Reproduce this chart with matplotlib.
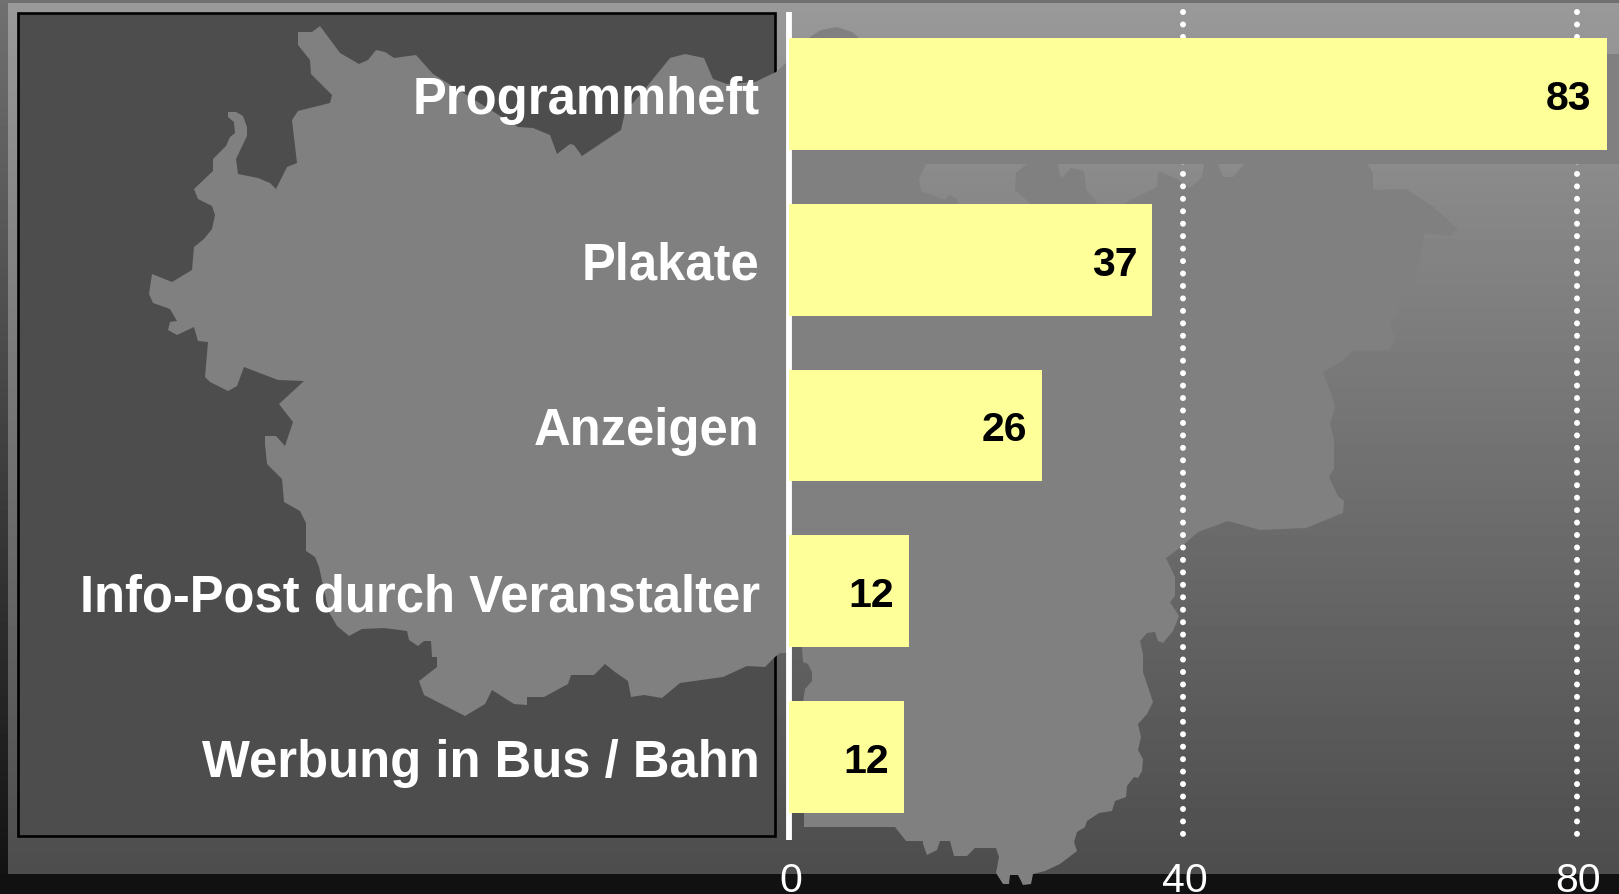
import numpy as np
import matplotlib
matplotlib.use("Agg")
import matplotlib.pyplot as plt
from matplotlib.patches import Polygon, Rectangle
from matplotlib.transforms import ScaledTranslation

plt.rcParams['font.family'] = ['Liberation Sans', 'DejaVu Sans']

# ------------------------------
# Data
# ------------------------------
categories = ["Programmheft", "Plakate", "Anzeigen", "Info-Post durch Veranstalter", "Werbung in Bus / Bahn"]
bar_values = [83, 36.9, 25.7, 12.2, 11.7]
bar_labels = ["83", "37", "26", "12", "12"]
x_ticks = [0, 40, 80]

# outline of the map behind the chart, picture pixels
map_outline = [
    (298, 33), (312, 33), (320, 27), (340, 54), (359, 65), (368, 61), (376, 51), (385, 53), (394, 59), (416, 56),
    (433, 75), (518, 128), (533, 129), (550, 136), (557, 155), (570, 145), (574, 146), (582, 157), (621, 131),
    (625, 113), (645, 90), (670, 59), (685, 55), (704, 59), (713, 80), (727, 85), (755, 83), (776, 73), (790, 60),
    (810, 38), (821, 31), (837, 28), (852, 33), (859, 39), (900, 120), (926, 165), (919, 180), (921, 192),
    (945, 201), (950, 196), (957, 200), (960, 210), (1025, 210), (1030, 204), (1015, 191), (1016, 174), (1027, 165),
    (1040, 150), (1058, 150), (1058, 165), (1059, 174), (1062, 179), (1071, 169), (1084, 172), (1086, 190),
    (1097, 204), (1100, 212), (1120, 212), (1127, 203), (1157, 188), (1158, 174), (1161, 173), (1177, 180),
    (1190, 189), (1202, 178), (1204, 165), (1210, 150), (1218, 150), (1218, 165), (1223, 178), (1233, 178),
    (1244, 165), (1250, 150), (1360, 150), (1367, 165), (1373, 174), (1373, 191), (1406, 190), (1432, 207),
    (1458, 230), (1450, 237), (1424, 234), (1421, 260), (1390, 328), (1395, 339), (1390, 351), (1354, 351),
    (1341, 363), (1323, 373), (1332, 397), (1335, 408), (1330, 425), (1334, 440), (1334, 470), (1329, 478),
    (1338, 497), (1344, 502), (1343, 514), (1306, 529), (1260, 531), (1228, 522), (1198, 533), (1181, 548),
    (1166, 559), (1175, 578), (1175, 597), (1170, 603), (1179, 617), (1173, 632), (1163, 644), (1158, 642),
    (1155, 633), (1147, 634), (1140, 642), (1143, 655), (1143, 673), (1153, 703), (1147, 715), (1138, 725),
    (1141, 738), (1138, 751), (1143, 760), (1142, 772), (1138, 779), (1134, 778), (1127, 787), (1126, 798),
    (1115, 802), (1112, 812), (1099, 814), (1087, 822), (1085, 828), (1077, 833), (1074, 843), (1077, 852),
    (1060, 865), (1045, 872), (1033, 875), (1031, 885), (1023, 886), (1018, 876), (1010, 876), (1009, 885),
    (1003, 885), (996, 874), (999, 858), (996, 849), (975, 849), (967, 857), (954, 857), (950, 842), (940, 842),
    (937, 851), (927, 856), (923, 845), (923, 842), (906, 842), (895, 828), (804, 828), (804, 813), (803, 703),
    (805, 690), (812, 682), (812, 673), (808, 665), (803, 663), (802, 648), (792, 648), (786, 654), (780, 654),
    (775, 658), (765, 668), (747, 667), (723, 678), (680, 684), (662, 699), (644, 696), (631, 698), (628, 682),
    (615, 673), (605, 665), (594, 676), (571, 676), (568, 685), (544, 698), (527, 698), (527, 706), (514, 705),
    (492, 691), (485, 705), (465, 717), (424, 696), (419, 682), (437, 668), (437, 658), (432, 658), (431, 642),
    (424, 642), (418, 647), (409, 641), (407, 632), (384, 629), (362, 630), (349, 637), (337, 627), (329, 613),
    (319, 568), (315, 558), (306, 552), (306, 524), (300, 512), (284, 503), (282, 480), (267, 465), (265, 445),
    (265, 437), (276, 437), (285, 447), (293, 423), (279, 405), (304, 382), (278, 381), (244, 368), (237, 387),
    (228, 392), (210, 383), (205, 378), (208, 343), (198, 342), (194, 328), (177, 336), (168, 331), (170, 323),
    (177, 322), (170, 310), (153, 304), (149, 295), (152, 275), (172, 283), (192, 271), (194, 248), (204, 240),
    (212, 230), (215, 216), (212, 207), (198, 200), (194, 190), (213, 172), (213, 160), (226, 147), (230, 138),
    (235, 134), (234, 123), (228, 118), (228, 113), (236, 113), (243, 117), (247, 128), (247, 137), (236, 160),
    (238, 175), (258, 179), (270, 184), (276, 190), (287, 168), (297, 164), (292, 121), (298, 112), (330, 104),
    (332, 96), (311, 75), (310, 61), (298, 46),
]

W, H = 1619, 895
fig = plt.figure(figsize=(W / 100, H / 100), dpi=100)

# ------------------------------
# Backdrop: gradients, dark panel and map, in pixel coordinates
# ------------------------------
bg = fig.add_axes([0, 0, 1, 1], zorder=0)
bg.axis('off')


def gradient(top, bottom, extent):
    grey = np.linspace(top, bottom, 256).reshape(-1, 1)
    bg.imshow(grey, cmap='gray', vmin=0, vmax=255, aspect='auto', extent=extent, interpolation='bilinear', zorder=0)


gradient(0x70, 0x11, (0, W, H, 0))
gradient(0x99, 0x4d, (8, W, 875, 4))
bg.add_patch(Rectangle((0, 875), W, 20, fc='#111111', ec='none', zorder=0.5))
bg.add_patch(Rectangle((18.2, 14.4), 757.2, 822.6, fc='#4d4d4d', ec='black', lw=1.9, zorder=1))
bg.add_patch(Polygon(map_outline, closed=True, fc='#808080', ec='none', zorder=2))
bg.set_xlim(0, W)
bg.set_ylim(H, 0)

# ------------------------------
# The bar chart itself
# ------------------------------
left, right, top, bottom = 789, W, 12.5, 840.5
ax = fig.add_axes([left / W, 1 - bottom / H, (right - left) / W, (bottom - top) / H], zorder=1)
ax.patch.set_visible(False)

y = np.arange(len(categories))
ax.barh(y, bar_values, height=0.675, color='#ffff99', zorder=3)

ax.set_xlim(0, (right - left) / 9.85)
ax.set_ylim(len(categories) - 0.5, -0.5)

# dotted grid, from the top down so the dots start at the top edge
for tick in x_ticks[1:]:
    ax.plot([tick, tick], [-0.5, len(categories) - 0.5], color='white', lw=4.3,
            linestyle=(0, (0.01, 2.075)), dash_capstyle='round', clip_on=False, zorder=1)

# the flat grey band hides the grid between the first two bars
ax.add_patch(Rectangle((792, 55), W - 792, 110, fc='#808080', ec='none', transform=bg.transData, zorder=2))

for i, label in enumerate(bar_labels):
    ax.annotate(label, (bar_values[i], y[i]), xytext=(-10.8, 0), textcoords='offset points',
                ha='right', va='center_baseline', fontsize=29.5, fontweight='bold', color='black', zorder=4)

for side in ['top', 'right', 'bottom']:
    ax.spines[side].set_visible(False)
ax.spines['left'].set_color('white')
ax.spines['left'].set_linewidth(4.2)
ax.spines['left'].set_capstyle('butt')

ax.set_yticks(y)
ax.set_yticklabels(categories, fontsize=36.5, fontweight='bold', color='white')
ax.set_xticks(x_ticks)
ax.set_xticklabels([str(t) for t in x_ticks], fontsize=29.5, color='white')
ax.tick_params(axis='y', length=0, pad=21)
ax.tick_params(axis='x', length=0, pad=15.3)

# small nudge so the x labels sit where they sit in the reference
for lab in ax.get_xticklabels():
    lab.set_transform(lab.get_transform() + ScaledTranslation(1.5 / 100, 0, fig.dpi_scale_trans))

fig.savefig('out.png', dpi=100)
